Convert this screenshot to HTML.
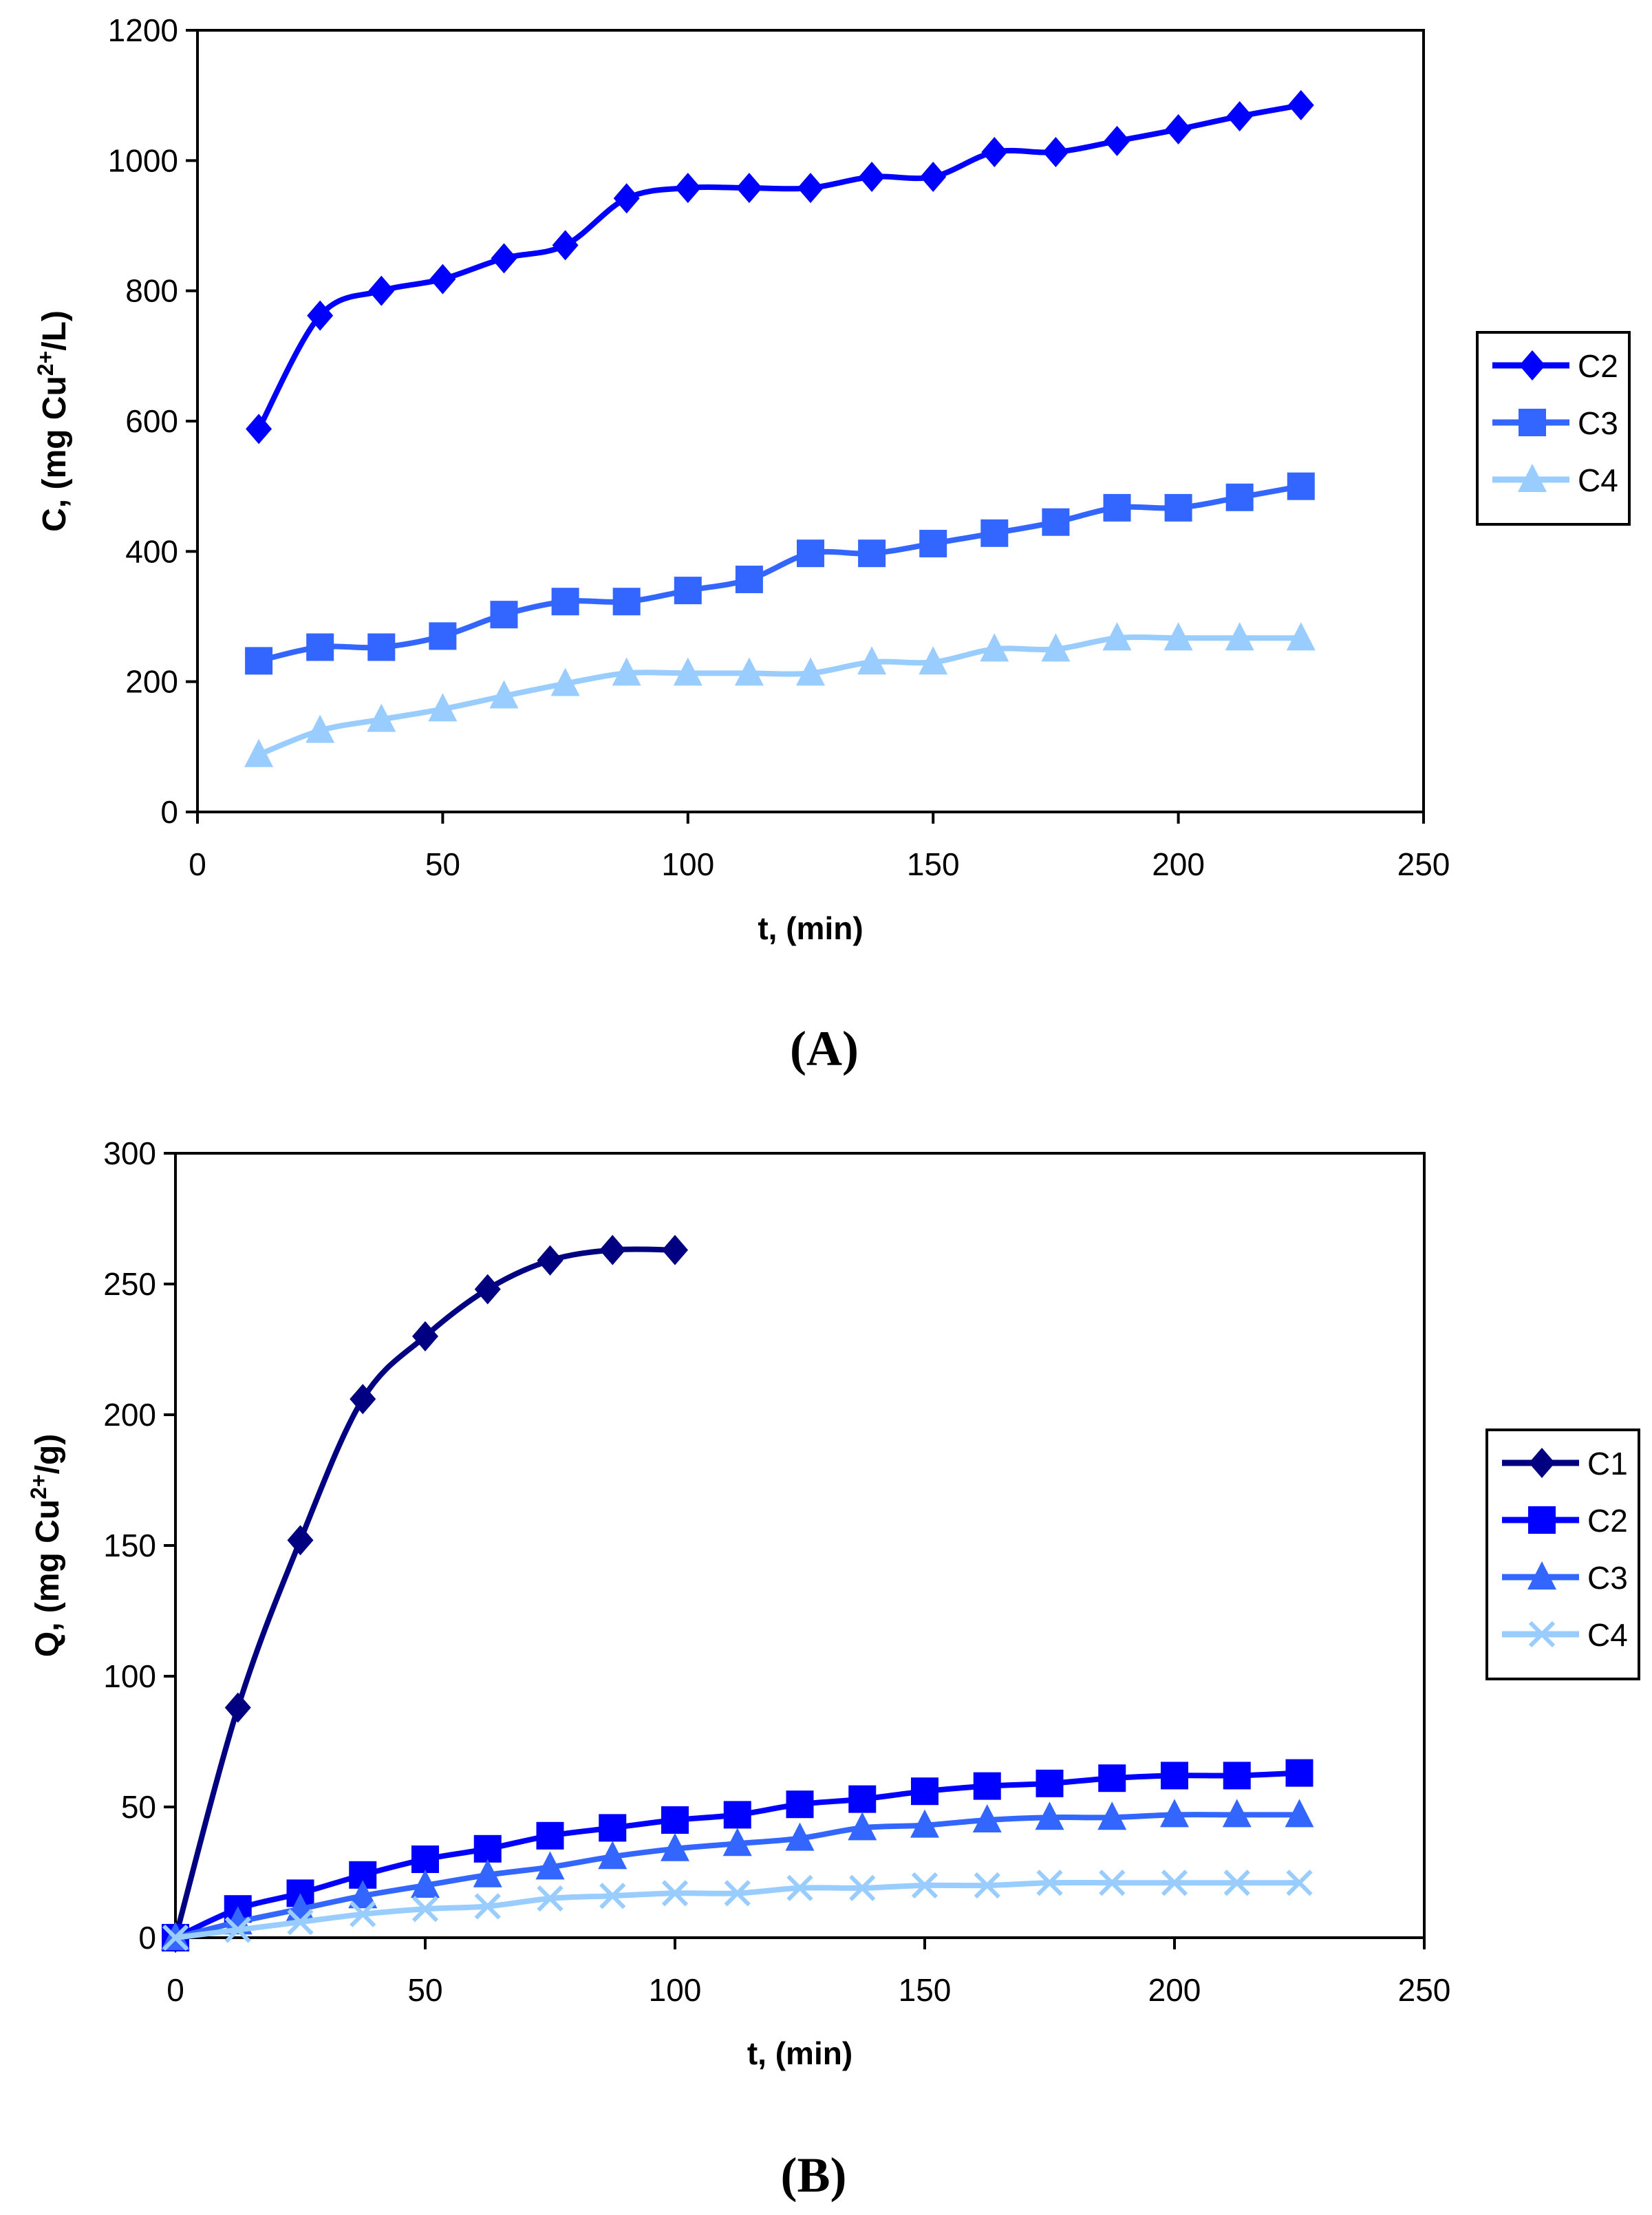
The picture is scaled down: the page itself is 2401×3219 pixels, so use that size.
<!DOCTYPE html>
<html><head><meta charset="utf-8"><style>
html,body{margin:0;padding:0;background:#fff;}
svg{display:block;font-family:"Liberation Sans",Arial,sans-serif;}
</style></head><body>
<svg id="chart" width="2401" height="3219" viewBox="0 0 2401 3219" xmlns="http://www.w3.org/2000/svg"></svg>
<script>
// Panel A data
const tA = [12.5,25,37.5,50,62.5,75,87.5,100,112.5,125,137.5,150,162.5,175,187.5,200,212.5,225];
const aC2 = [588,762,800,818,850,870,942,958,958,958,975,975,1013,1013,1030,1048,1068,1085];
const aC3 = [232,253,253,270,303,323,323,340,357,397,397,412,428,445,467,467,483,500];
const aC4 = [88,125,142,158,178,197,213,213,213,213,230,230,250,250,267,267,267,267];
const aYTicks = [0,200,400,600,800,1000,1200];
const xTicks = [0,50,100,150,200,250];
// Panel B data
const tB = [0,12.5,25,37.5,50,62.5,75,87.5,100,112.5,125,137.5,150,162.5,175,187.5,200,212.5,225];
const bC1 = [0,88,152,206,230,248,259,263,263];
const bC2 = [0,11,17,24,30,34,39,42,45,47,51,53,56,58,59,61,62,62,63];
const bC3 = [0,6,11,16,20,24,27,31,34,36,38,42,43,45,46,46,47,47,47];
const bC4 = [0,3,6,9,11,12,15,16,17,17,19,19,20,20,21,21,21,21,21];
const bYTicks = [0,50,100,150,200,250,300];

const NS="http://www.w3.org/2000/svg";
const svg=document.getElementById('chart');
function mk(tag,attrs,parent,name,inter){
  const e=document.createElementNS(NS,tag);
  for(const k in attrs)e.setAttribute(k,attrs[k]);
  
  
  (parent||svg).appendChild(e);return e;
}
function smooth(pts){
  if(pts.length<2)return '';
  let d='M'+pts[0][0]+','+pts[0][1];
  for(let i=0;i<pts.length-1;i++){
    const p0=pts[i-1]||pts[i],p1=pts[i],p2=pts[i+1],p3=pts[i+2]||p2;
    const c1=[p1[0]+(p2[0]-p0[0])/6,p1[1]+(p2[1]-p0[1])/6];
    const c2=[p2[0]-(p3[0]-p1[0])/6,p2[1]-(p3[1]-p1[1])/6];
    d+=' C'+c1[0]+','+c1[1]+' '+c2[0]+','+c2[1]+' '+p2[0]+','+p2[1];
  }
  return d;
}
function marker(g,type,x,y,color,name){
  if(type==='diamond')mk('polygon',{points:`${x},${y-22} ${x+19},${y} ${x},${y+22} ${x-19},${y}`,fill:color},g,name);
  else if(type==='square')mk('rect',{x:x-20,y:y-20,width:40,height:40,fill:color},g,name);
  else if(type==='triangle')mk('polygon',{points:`${x},${y-23} ${x+21},${y+18} ${x-21},${y+18}`,fill:color},g,name);
  else if(type==='x'){mk('path',{d:`M${x-17},${y-17}L${x+17},${y+17}M${x+17},${y-17}L${x-17},${y+17}`,stroke:color,'stroke-width':6},g,name);}
}
function panel(cfg){
  const g=mk('g',{},svg,cfg.name);
  const {L,R,T,B,ymax}=cfg;
  const sx=v=>L+(v/250)*(R-L), sy=v=>B-(v/ymax)*(B-T);
  mk('rect',{x:L,y:T,width:R-L,height:B-T,fill:'none',stroke:'#000','stroke-width':4},g,'plot-frame');
  xTicks.forEach(v=>{
    mk('line',{x1:sx(v),x2:sx(v),y1:B,y2:B+17,stroke:'#000','stroke-width':4},g,'x-tick');
    const t=mk('text',{x:sx(v),y:B+92,'font-size':46,'text-anchor':'middle'},g,'x-tick-label');t.textContent=v;
  });
  cfg.yTicks.forEach(v=>{
    mk('line',{x1:L-17,x2:L,y1:sy(v),y2:sy(v),stroke:'#000','stroke-width':4},g,'y-tick');
    const t=mk('text',{x:L-28,y:sy(v)+16,'font-size':46,'text-anchor':'end'},g,'y-tick-label');t.textContent=v;
  });
  const xt=mk('text',{x:(L+R)/2,y:cfg.xTitleY,'font-size':46,'font-weight':'bold','text-anchor':'middle'},g,'x-axis-title');xt.textContent='t, (min)';
  const yt=mk('text',{x:0,y:0,'font-size':48,'font-weight':'bold','text-anchor':'middle',transform:`translate(${cfg.yTitleX},${(T+B)/2}) rotate(-90)`},g,'y-axis-title');
  yt.innerHTML=cfg.yTitle;
  cfg.series.forEach(s=>{
    const sg=mk('g',{},g,'series-'+s.label.toLowerCase());
    const pts=s.vals.map((v,i)=>[sx(s.t[i]),sy(v)]);
    mk('path',{d:smooth(pts),fill:'none',stroke:s.color,'stroke-width':8,'stroke-linejoin':'round'},sg,'line-'+s.label.toLowerCase());
    pts.forEach(p=>marker(sg,s.m,p[0],p[1],s.color,'point-'+s.label.toLowerCase()));
  });
  const lg=mk('g',{},g,'legend');
  const lx=cfg.legend[0],ly=cfg.legend[1],lh=cfg.series.length*83+30;
  mk('rect',{x:lx,y:ly,width:221,height:lh,fill:'#fff',stroke:'#000','stroke-width':4},lg,'legend-box');
  cfg.series.forEach((s,i)=>{
    const y=ly+48+i*83;
    const eg=mk('g',{},lg,'legend-entry');
    mk('line',{x1:lx+22,x2:lx+134,y1:y,y2:y,stroke:s.color,'stroke-width':9},eg,'legend-line');
    marker(eg,s.m,lx+80,y,s.color,'legend-marker');
    const t=mk('text',{x:lx+146,y:y+17,'font-size':46},eg,'legend-label');t.textContent=s.label;
  });
  const cap=mk('text',{x:(L+R)/2+20,y:cfg.capY,'font-size':72,'font-weight':'bold','text-anchor':'middle','font-family':'"Liberation Serif","Times New Roman",serif'},g,'panel-caption');cap.textContent=cfg.cap;
}
panel({name:'chart-a',L:287,R:2069,T:44,B:1180,ymax:1200,yTicks:aYTicks,xTitleY:1365,yTitleX:95,
  yTitle:'C, (mg Cu<tspan baseline-shift="super" font-size="32">2+</tspan>/L)',legend:[2147,483],capY:1548,cap:'(A)',
  series:[{label:'C2',t:tA,vals:aC2,color:'#0000FF',m:'diamond'},{label:'C3',t:tA,vals:aC3,color:'#3366FF',m:'square'},{label:'C4',t:tA,vals:aC4,color:'#99CCFF',m:'triangle'}]});
panel({name:'chart-b',L:255,R:2070,T:1676,B:2816,ymax:300,yTicks:bYTicks,xTitleY:3000,yTitleX:85,
  yTitle:'Q, (mg Cu<tspan baseline-shift="super" font-size="32">2+</tspan>/g)',legend:[2161,2078],capY:3185,cap:'(B)',
  series:[{label:'C1',t:tB,vals:bC1,color:'#000080',m:'diamond'},{label:'C2',t:tB,vals:bC2,color:'#0000FF',m:'square'},{label:'C3',t:tB,vals:bC3,color:'#3366FF',m:'triangle'},{label:'C4',t:tB,vals:bC4,color:'#99CCFF',m:'x'}]});
</script>
</body></html>
